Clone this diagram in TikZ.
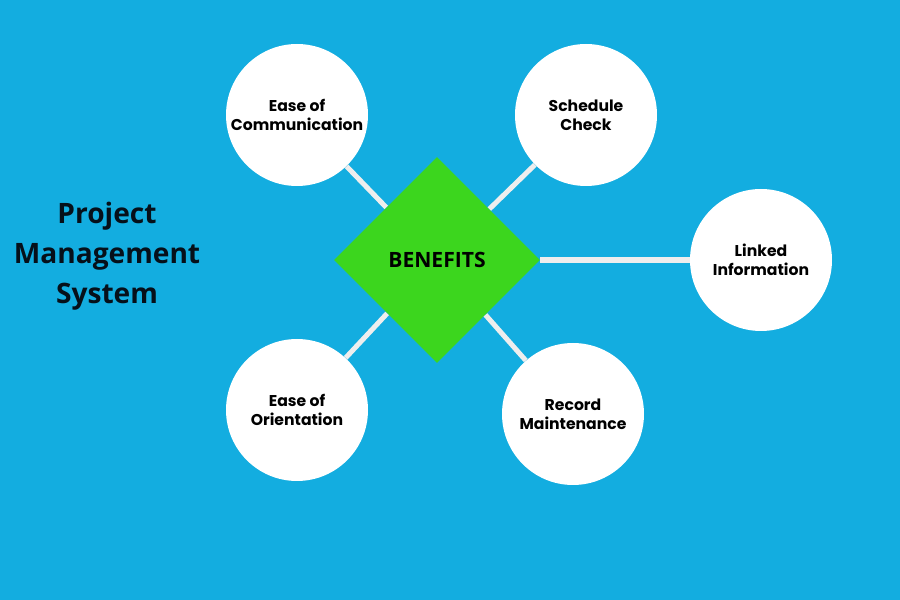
\documentclass[tikz,border=0pt]{standalone}
\usepackage{fontspec}
\setmainfont{Open Sans}
\newfontfamily\circfont{Poppins}
\usepackage{xcolor}
\usetikzlibrary{shapes.geometric}
\definecolor{bgblue}{HTML}{13ADE0}
\definecolor{leafgreen}{HTML}{3CD61E}
\definecolor{titleink}{HTML}{06101A}
\definecolor{linkgray}{HTML}{EEEEEE}

\begin{document}
\begin{tikzpicture}[
  benefit/.style={circle,fill=white,minimum size=2.84cm,inner sep=0pt,align=center,
    font=\circfont\bfseries\fontsize{8.9}{10.6}\selectfont},
  link/.style={draw=linkgray,line width=2.85pt}
]
\fill[bgblue] (0,0) rectangle (18,12);
\useasboundingbox (0,0) rectangle (18,12);

\node [align=center,text=titleink,font=\bfseries\fontsize{16}{22.8}\selectfont] (title) at (2.14,6.88) {Project\\Management\\System};

\node [diamond,aspect=1,fill=leafgreen,minimum width=4.12cm,minimum height=4.12cm,inner sep=0pt,font=\bfseries\fontsize{12}{14}\selectfont] (benefits) at (8.74,6.80) {BENEFITS};

\node [benefit] (comm) at (5.94,9.70) {Ease of\\Communication};
\node [benefit] (sched) at (11.72,9.70) {Schedule\\Check};
\node [benefit] (linked) at (15.22,6.80) {Linked\\Information};
\node [benefit] (orient) at (5.94,3.80) {Ease of\\Orientation};
\node [benefit] (record) at (11.46,3.72) {Record\\Maintenance};

\draw [link] (benefits) -- (comm);
\draw [link] (benefits) -- (sched);
\draw [link] (benefits.east) -- (linked);
\draw [link] (benefits) -- (orient);
\draw [link] (benefits) -- (record);
\end{tikzpicture}
\end{document}
